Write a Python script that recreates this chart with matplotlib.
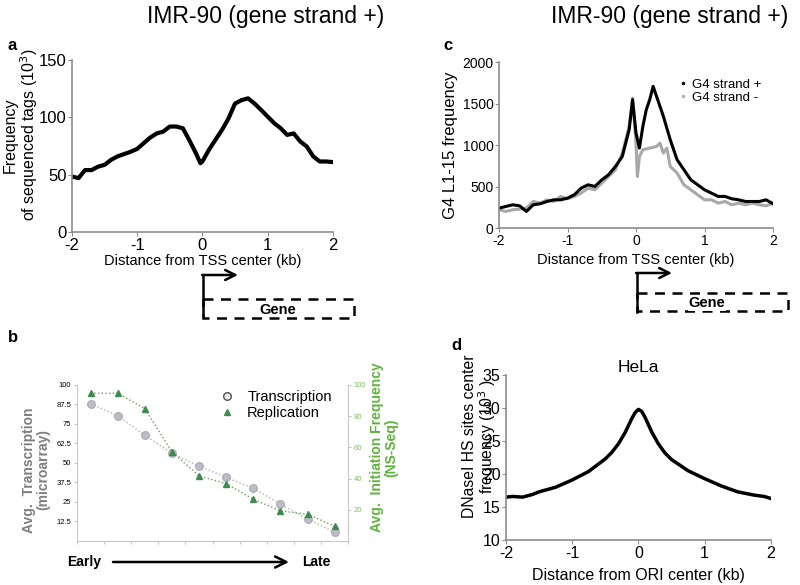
import numpy as np
import matplotlib.pyplot as plt
from matplotlib.lines import Line2D
from matplotlib.patches import Rectangle

plt.rcParams['font.family'] = ['Liberation Sans', 'DejaVu Sans']
plt.rcParams['axes.unicode_minus'] = False

# panel a: tag frequency around TSS (IMR-90)
a_x = [-2.0, -1.9, -1.8, -1.7, -1.6, -1.5, -1.4, -1.3, -1.2, -1.1, -1.0,
       -0.9, -0.8, -0.7, -0.6, -0.5, -0.4, -0.3, -0.2, -0.1, -0.03, 0.0,
       0.1, 0.2, 0.3, 0.4, 0.5, 0.6, 0.7, 0.8, 0.9, 1.0, 1.1, 1.2, 1.3,
       1.4, 1.5, 1.6, 1.7, 1.8, 1.9, 2.0]
a_y = [48.4, 47, 54, 54, 57, 58.6, 63, 66, 68, 70, 72.5,
       77.5, 82.4, 86, 87.6, 92, 92, 90.5, 80, 68.8, 60, 61.5,
       71.7, 80.4, 89, 99, 112, 115, 116.6, 112, 106.5, 100.7, 95, 90.5, 84.7,
       86, 79, 74.6, 65.9, 61.5, 61.5, 61]

# panel c: G4 frequency, both strands
c_x_plus = [-2.0, -1.9, -1.8, -1.7, -1.6, -1.5, -1.4, -1.3, -1.2, -1.1, -1.0,
            -0.9, -0.8, -0.7, -0.6, -0.5, -0.4, -0.3, -0.2, -0.1, -0.05,
            0.0, 0.05, 0.1, 0.15, 0.2, 0.25, 0.3, 0.35, 0.4, 0.5, 0.6, 0.7,
            0.8, 0.9, 1.0, 1.1, 1.2, 1.3, 1.4, 1.5, 1.6, 1.7, 1.8, 1.9, 2.0]
c_plus = [241, 261, 281, 269, 201, 281, 293, 321, 341, 341, 361,
          402, 482, 522, 502, 582, 643, 743, 863, 1185, 1546,
          1145, 964, 1225, 1426, 1546, 1707, 1586, 1466, 1345, 1064, 823, 703,
          582, 522, 462, 422, 382, 382, 353, 341, 321, 321, 321, 341, 293]
c_x_minus = [-2.0, -1.9, -1.8, -1.7, -1.6, -1.5, -1.4, -1.3, -1.2, -1.1, -1.0,
             -0.9, -0.8, -0.7, -0.6, -0.5, -0.4, -0.3, -0.2, -0.1, -0.05,
             0.0, 0.02, 0.05, 0.1, 0.2, 0.3, 0.35, 0.4, 0.45, 0.5, 0.6, 0.7,
             0.8, 0.9, 1.0, 1.1, 1.2, 1.3, 1.4, 1.5, 1.6, 1.7, 1.8, 1.9, 2.0]
c_minus = [221, 201, 221, 229, 241, 321, 301, 341, 321, 382, 353,
           382, 422, 482, 462, 542, 622, 703, 904, 1225, 1566,
           1024, 622, 863, 944, 964, 984, 1024, 904, 964, 743, 663, 522,
           462, 402, 341, 341, 301, 321, 281, 301, 281, 301, 281, 269, 301]

# panel b: transcription vs replication, early -> late bins
b_bins = [0.5, 1.5, 2.5, 3.5, 4.5, 5.5, 6.5, 7.5, 8.5, 9.5]
b_transcription = [87.8, 80.3, 67.7, 56.1, 48.0, 40.7, 33.8, 23.6, 14.1, 5.6]
b_replication = [94.6, 94.6, 84.8, 57.1, 41.6, 36.8, 26.8, 19.3, 17.1, 9.5]
b_left_ticks = [12.5, 25, 37.5, 50, 62.5, 75, 87.5, 100]
b_left_labels = ['12.5', '25', '37.5', '50', '62.5', '75', '87.5', '100']
b_right_ticks = [20, 40, 60, 80, 100]

# panel d: DNaseI HS around ORI (HeLa)
d_x = [-2.0, -1.9, -1.75, -1.6, -1.5, -1.25, -1.0, -0.75, -0.5, -0.4, -0.3,
       -0.2, -0.1, -0.05, 0.0, 0.05, 0.1, 0.2, 0.3, 0.4, 0.5, 0.75, 1.0,
       1.25, 1.5, 1.75, 1.9, 2.0]
d_y = [16.5, 16.6, 16.5, 16.9, 17.3, 18.0, 19.1, 20.4, 22.3, 23.3, 24.6,
       26.3, 28.4, 29.3, 29.8, 29.5, 28.6, 26.4, 24.6, 23.2, 22.2, 20.5, 19.3,
       18.2, 17.3, 16.8, 16.6, 16.3]

fig = plt.figure(figsize=(8, 5.85), dpi=100)

spine_grey = '#8c8c8c'


def style_axes(ax, color=spine_grey, labelsize=12):
    for s in ['top', 'right']:
        ax.spines[s].set_visible(False)
    for s in ['left', 'bottom']:
        ax.spines[s].set_color(color)
        ax.spines[s].set_linewidth(1.2)
    ax.tick_params(direction='out', length=3, color=color, labelsize=labelsize, pad=1)


# ---- a ----
ax_a = fig.add_axes([0.09, 0.6034, 0.326, 0.294])
ax_a.plot(a_x, a_y, color='black', lw=3)
ax_a.set_xlim(-2, 2)
ax_a.set_ylim(0, 150)
ax_a.set_xticks([-2, -1, 0, 1, 2])
ax_a.set_yticks([0, 50, 100, 150])
style_axes(ax_a, labelsize=12)
ax_a.set_xlabel('Distance from TSS center (kb)', fontsize=10.5, labelpad=1)
ax_a.set_ylabel('Frequency\nof sequenced tags (10$^3$)', fontsize=11.5, linespacing=1.05)
ax_a.yaxis.set_label_coords(-0.123, 0.564)

# ---- c ----
ax_c = fig.add_axes([0.62375, 0.61, 0.3425, 0.284])
ax_c.plot(c_x_minus, c_minus, color='#a8a8a8', lw=2.2)
ax_c.plot(c_x_plus, c_plus, color='black', lw=2.2)
ax_c.set_xlim(-2, 2)
ax_c.set_ylim(0, 2000)
ax_c.set_xticks([-2, -1, 0, 1, 2])
ax_c.set_yticks([0, 500, 1000, 1500, 2000])
style_axes(ax_c, labelsize=10)
ax_c.set_xlabel('Distance from TSS center (kb)', fontsize=10.5, labelpad=4)
ax_c.set_ylabel('G4 L1-15 frequency', fontsize=12, labelpad=3)
c_handles = [Line2D([], [], ls='none', marker='.', ms=3, color='black'),
             Line2D([], [], ls='none', marker='.', ms=3, color='#b0b0b0')]
ax_c.legend(c_handles, ['G4 strand +', 'G4 strand -'], loc='upper right',
            bbox_to_anchor=(1.0, 0.97), frameon=False, fontsize=9.5,
            handletextpad=0.2, labelspacing=0.05, handlelength=1.0)

# ---- b ----
b_grey_line = '#c5c9c0'
ax_b = fig.add_axes([0.09625, 0.0752, 0.339, 0.267])
ax_b.plot(b_bins, b_transcription, ls=':', color='#a8b8a0', lw=1)
ax_b.plot(b_bins, b_transcription, ls='none', marker='o', ms=5.5,
          color='#bdbdc6', mec='#b0b0ba')
ax_b.set_xlim(0, 10)
ax_b.set_ylim(0, 100)
ax_b.set_xticks(range(11))
ax_b.set_xticklabels([])
ax_b.set_yticks(b_left_ticks)
ax_b.set_yticklabels(b_left_labels)
for s in ['top', 'right']:
    ax_b.spines[s].set_visible(False)
for s in ['left', 'bottom']:
    ax_b.spines[s].set_color(b_grey_line)
ax_b.tick_params(direction='out', length=2, color=b_grey_line, labelsize=5.5, pad=2)
ax_b.set_ylabel('Avg.  Transcription\n(microarray)', fontsize=10, fontweight='bold',
                color='#7f7f7f', linespacing=1.0)
ax_b.yaxis.set_label_coords(-0.1, 0.455)

ax_b2 = ax_b.twinx()
ax_b2.plot(b_bins, b_replication, ls=':', color='#6f9a5a', lw=1)
ax_b2.plot(b_bins, b_replication, ls='none', marker='^', ms=5, color='#3f8a4e')
ax_b2.set_ylim(0, 100)
ax_b2.set_yticks(b_right_ticks)
for s in ['top', 'left', 'bottom']:
    ax_b2.spines[s].set_visible(False)
ax_b2.spines['right'].set_color(b_grey_line)
ax_b2.tick_params(direction='out', length=2, color=b_grey_line, labelsize=5.5,
                  labelcolor='#7cc35f', pad=2)
ax_b2.set_ylabel('Avg.  Initiation Frequency\n(NS-Seq)', fontsize=10, fontweight='bold',
                 color='#5fb43c', linespacing=1.0)
ax_b2.yaxis.set_label_coords(1.08, 0.6)

b_handles = [Line2D([], [], ls='none', marker='o', ms=5.5, mfc='#e8e8e8', mec='#555555'),
             Line2D([], [], ls='none', marker='^', ms=5, color='#3f8a4e')]
ax_b.legend(b_handles, ['Transcription', 'Replication'], loc='upper left',
            bbox_to_anchor=(0.45, 1.05), frameon=False, fontsize=10.5,
            handletextpad=0.4, labelspacing=0.15)

# ---- d ----
ax_d = fig.add_axes([0.6325, 0.0769, 0.331, 0.282])
ax_d.plot(d_x, d_y, color='black', lw=2.5)
ax_d.set_xlim(-2, 2)
ax_d.set_ylim(10, 35)
ax_d.set_xticks([-2, -1, 0, 1, 2])
ax_d.set_yticks([10, 15, 20, 25, 30, 35])
style_axes(ax_d, labelsize=11.5)
ax_d.set_xlabel('Distance from ORI center (kb)', fontsize=11.5, labelpad=5)
ax_d.set_title('HeLa', fontsize=12.5, pad=2)

# ---- overlay: titles, panel letters, gene diagrams, early/late arrow ----
ov = fig.add_axes([0, 0, 1, 1], zorder=-1)
ov.set_xlim(0, 800)
ov.set_ylim(585, 0)
ov.axis('off')

ov.text(266, 16, 'IMR-90 (gene strand +)', fontsize=16.5, ha='center', va='center')
ov.text(670, 16, 'IMR-90 (gene strand +)', fontsize=16.5, ha='center', va='center')
for letter, lx, ly in [('a', 8, 45), ('c', 443, 46), ('b', 8, 338), ('d', 451, 345)]:
    ov.text(lx, ly, letter, fontsize=12, fontweight='bold', ha='left', va='center')

for vx, top, bot, arrow_end, box_top, box_bot, box_right, gene_x in [
        (203, 275, 315, 238, 299, 318, 354, 278),
        (637, 273, 312, 672, 293, 311, 788, 707)]:
    ov.plot([vx, vx], [top, bot], color='black', lw=1.8)
    ov.annotate('', xy=(arrow_end, top), xytext=(vx - 0.9, top),
                arrowprops=dict(arrowstyle='->', lw=1.8, color='black',
                                mutation_scale=18, shrinkA=0, shrinkB=0))
    ov.add_patch(Rectangle((vx, box_top), box_right - vx, box_bot - box_top,
                           fill=False, ls=(0, (4, 3)), lw=1.8, ec='black'))
    ov.text(gene_x, (box_top + box_bot) / 2 + 1, 'Gene', fontsize=10.5,
            fontweight='bold', ha='center', va='center',
            bbox=dict(fc='white', ec='none', pad=0.5))

ov.text(67, 562, 'Early', fontsize=10, fontweight='bold', ha='left', va='center')
ov.text(302, 562, 'Late', fontsize=10, fontweight='bold', ha='left', va='center')
ov.annotate('', xy=(289, 562), xytext=(113, 562),
            arrowprops=dict(arrowstyle='->', lw=1.8, color='black',
                            mutation_scale=20, shrinkA=0, shrinkB=0))

# d y-label, overlapping its tick labels as in the original
ov.text(470, 436, 'DNaseI HS sites center', fontsize=11.3, rotation=90,
        ha='center', va='center')
ov.text(487, 437, 'frequency (10$^3$ )', fontsize=11.3, rotation=90,
        ha='center', va='center')

fig.savefig('out.png', dpi=100)
